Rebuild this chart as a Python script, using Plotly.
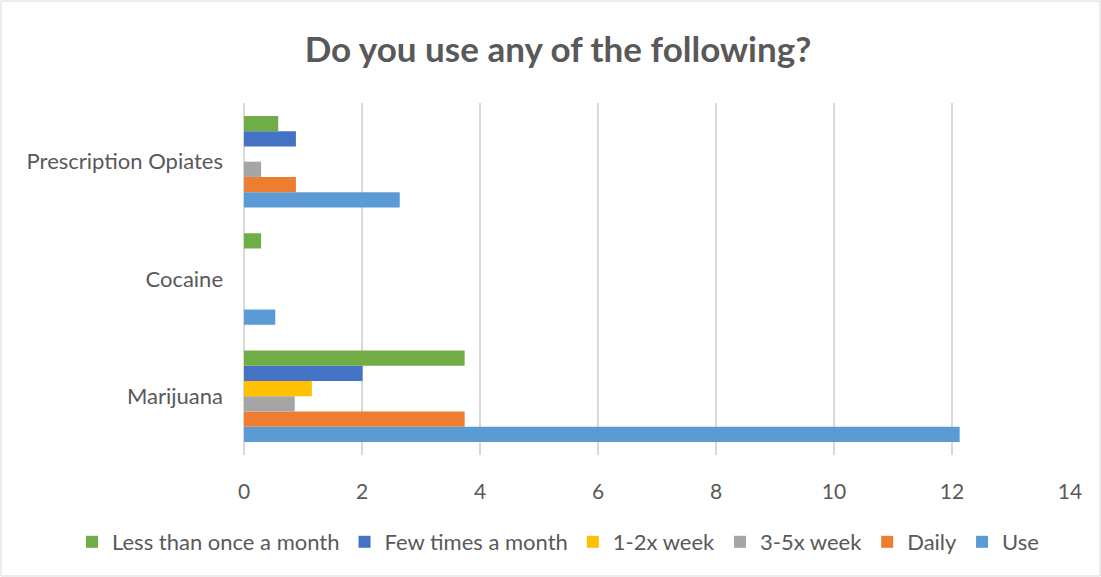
import plotly.graph_objects as go

categories = ["Marijuana", "Cocaine", "Prescription Opiates"]
use = [12.13, 0.53, 2.64]
daily = [3.74, 0, 0.88]
x35_week = [0.86, 0, 0.29]
x12_week = [1.15, 0, 0]
few_month = [2.01, 0, 0.88]
less_month = [3.74, 0.29, 0.58]
x_ticks = [0, 2, 4, 6, 8, 10, 12, 14]

series = [
    ("Use", use, "#5B9BD5"),
    ("Daily", daily, "#ED7D31"),
    ("3-5x week", x35_week, "#A5A5A5"),
    ("1-2x week", x12_week, "#FFC000"),
    ("Few times a month", few_month, "#4472C4"),
    ("Less than once a month", less_month, "#70AD47"),
]

FONT = "Lato, 'Open Sans', sans-serif"
fig = go.Figure()
for name, vals, col in series:
    fig.add_trace(go.Bar(y=categories, x=vals, name=name, orientation="h",
                         marker=dict(color=col, line=dict(width=0))))

W, H = 1101, 577
L, R, T, B = 244, 31, 103, 122
pw, ph = W - L - R, H - T - B

fig.update_layout(
    width=W, height=H,
    barmode="group", bargap=0.22, bargroupgap=0,
    paper_bgcolor="white", plot_bgcolor="white",
    margin=dict(l=L, r=R, t=T, b=B, autoexpand=False),
    font=dict(family=FONT, size=21, color="#595959"),
    title=dict(text="<b>Do you use any of the following?</b>", x=558 / W, xref="container",
               xanchor="center", y=1 - 50 / H, yref="container", yanchor="middle",
               font=dict(family=FONT, size=35, color="#595959")),
    xaxis=dict(range=[0, 14], tickvals=x_ticks, showgrid=True, gridcolor="#D9D9D9",
               gridwidth=1.5, zeroline=True, zerolinecolor="#D9D9D9", zerolinewidth=1.5,
               showline=False, ticks="", ticklabelstandoff=22,
               tickfont=dict(size=21, color="#595959")),
    yaxis=dict(showgrid=False, zeroline=False, showline=False, ticks="",
               ticklabelstandoff=20, tickfont=dict(size=22, color="#595959")),
    legend=dict(orientation="h", traceorder="reversed", x=(72 - L) / pw, xref="paper",
                xanchor="left", y=(H - B - 542) / ph, yref="paper", yanchor="middle",
                font=dict(size=22, color="#595959"), itemwidth=30, tracegroupgap=0),
    showlegend=True,
    shapes=[dict(type="rect", xref="paper", yref="paper",
                 x0=(1 - L) / pw, x1=(W - 1 - L) / pw,
                 y0=(H - B - (H - 1)) / ph, y1=(H - B - 1) / ph,
                 line=dict(color="#D9D9D9", width=1), fillcolor="rgba(0,0,0,0)", layer="below")],
)
fig.write_html("out.html", config={"displayModeBar": False},
               post_script="document.body.style.margin='0';")
